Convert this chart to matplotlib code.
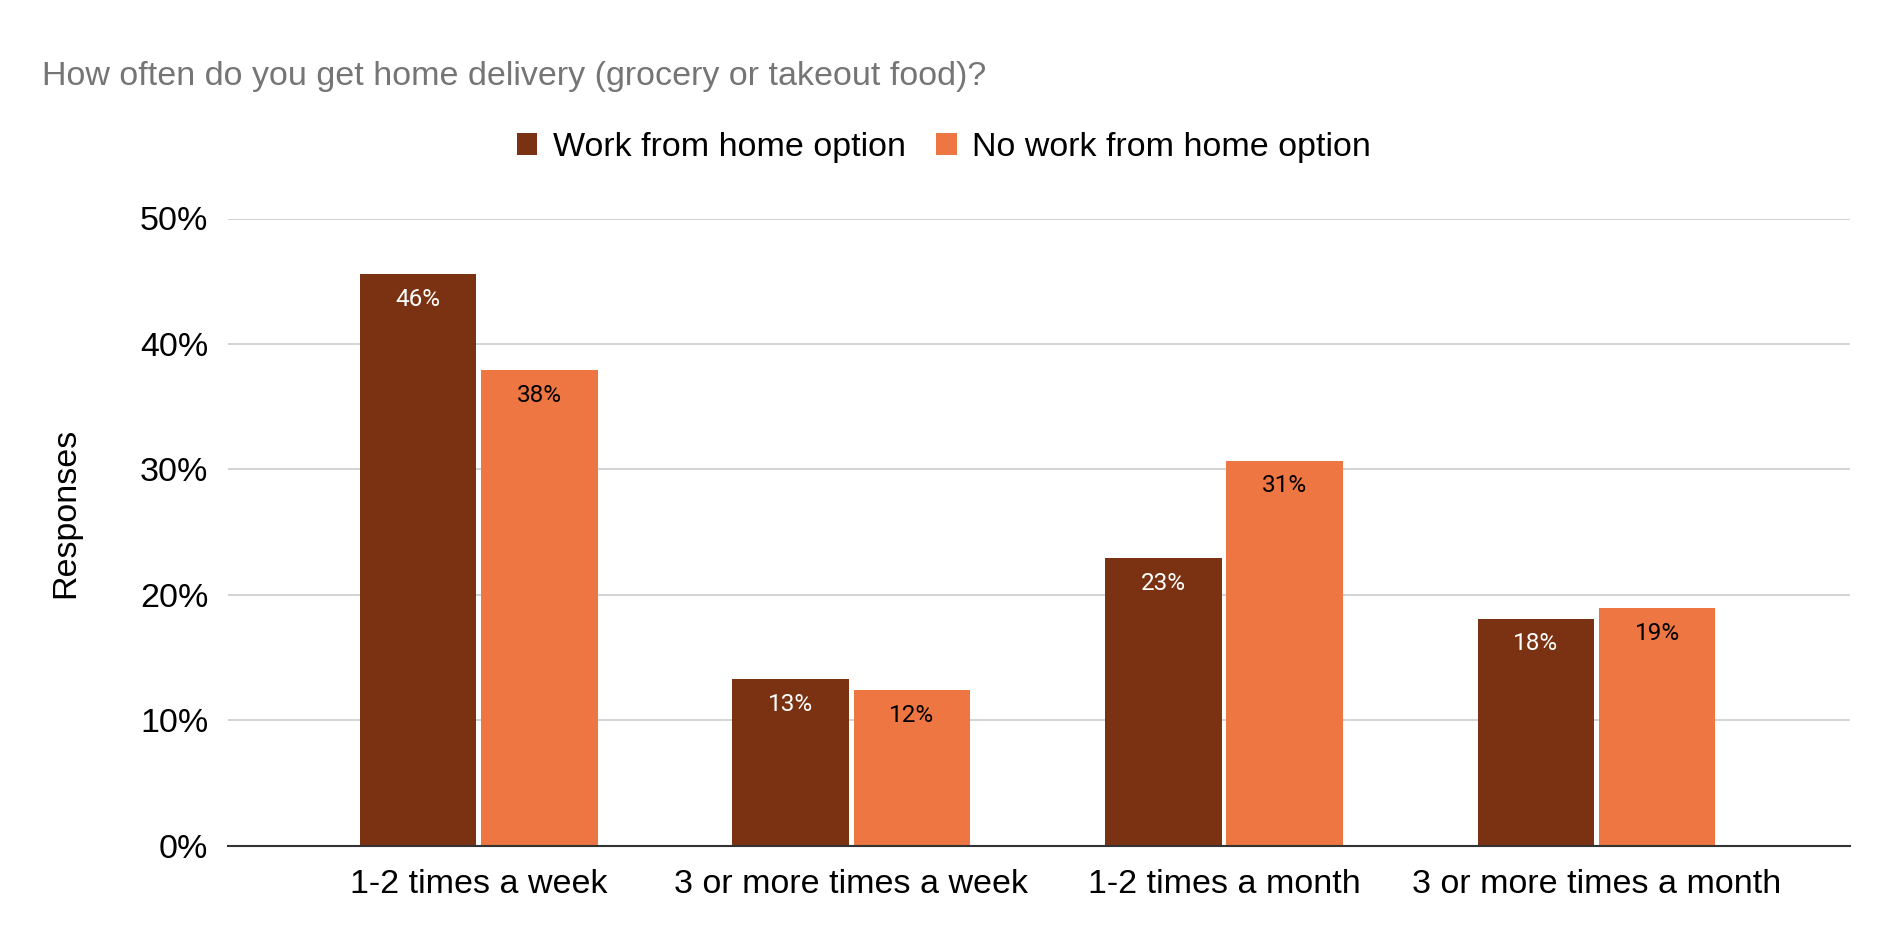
import matplotlib
matplotlib.use("Agg")
import matplotlib.pyplot as plt
import numpy as np

plt.rcParams['font.family'] = ['Liberation Sans', 'DejaVu Sans']

categories = ["1-2 times a week", "3 or more times a week", "1-2 times a month", "3 or more times a month"]
series_names = ["Work from home option", "No work from home option"]
wfh = [45.6, 13.3, 22.9, 18.1]
no_wfh = [37.9, 12.4, 30.7, 18.9]
wfh_labels = ["46%", "13%", "23%", "18%"]
no_wfh_labels = ["38%", "12%", "31%", "19%"]
yticks = [0, 10, 20, 30, 40, 50]

dark = "#7b3213"
light = "#ed7642"

fig = plt.figure(figsize=(18.8, 9.5), dpi=100)
ax = fig.add_axes([0.1212, 0.110, 0.8628, 0.660])

x = np.arange(len(categories))
w = 0.313
off = 0.1625
b1 = ax.bar(x - off, wfh, w, color=dark, label=series_names[0], zorder=3)
b2 = ax.bar(x + off, no_wfh, w, color=light, label=series_names[1], zorder=3)

for bars, labs, col in [(b1, wfh_labels, "white"), (b2, no_wfh_labels, "black")]:
    for r, lab in zip(bars, labs):
        ax.annotate(lab, (r.get_x() + r.get_width() / 2, r.get_height()),
                    xytext=(0, -10), textcoords="offset points",
                    ha="center", va="top", fontsize=17.5, color=col,
                    family=["Roboto", "DejaVu Sans"], zorder=4)

ax.set_xlim(-0.673, 3.68)
ax.set_ylim(0, 50)
ax.set_yticks(yticks)
ax.set_yticklabels([f"{t}%" for t in yticks])
ax.set_xticks(x)
ax.set_xticklabels(categories)
ax.tick_params(axis="both", length=0, labelsize=24.5, colors="black")
ax.tick_params(axis="x", pad=17)
ax.tick_params(axis="y", pad=14)
ax.grid(axis="y", color="#cccccc", linewidth=1.2, zorder=0)
for s in ["top", "right", "left"]:
    ax.spines[s].set_visible(False)
ax.spines["bottom"].set_color("#333333")
ax.spines["bottom"].set_linewidth(1.5)
ax.spines["bottom"].set_zorder(5)

fig.text(0.035, 0.46, "Responses", rotation=90, ha="center", va="center", fontsize=24.5)
fig.text(0.0223, 0.920, "How often do you get home delivery (grocery or takeout food)?",
         ha="left", va="center", fontsize=24.5, color="#757575")

fig.legend(handles=[b1, b2], labels=series_names, loc="center", bbox_to_anchor=(0.502, 0.845),
           ncol=2, frameon=False, fontsize=24.5, handlelength=0.6, handleheight=0.6,
           handletextpad=0.45, columnspacing=0.9)

fig.savefig("out.png", dpi=100)
